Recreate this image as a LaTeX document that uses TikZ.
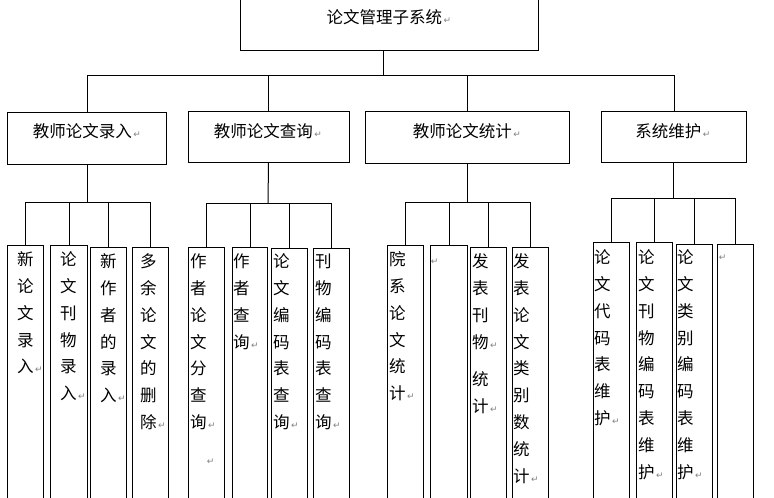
\documentclass[tikz,border=0pt]{standalone}
\usepackage{fontspec}
\newfontfamily\cjk{Noto Sans CJK SC}
\newfontfamily\retfont{DejaVu Sans}
\newcommand\ret{{\retfont\color{gray}\fontsize{9}{9}\selectfont\,↵}}
\tikzset{
  box/.style={draw, line width=1pt, rectangle, inner sep=0pt},
  leafbox/.style={draw, line width=1pt, rectangle, inner sep=0pt, anchor=north west},
  lbl/.style={inner sep=0pt, font=\cjk\fontsize{16.5}{16.5}\selectfont, text height=14pt, text depth=2.5pt},
  ch/.style={inner sep=0pt, anchor=west, font=\cjk\fontsize{16.5}{16.5}\selectfont, text height=14pt, text depth=2.5pt},
  link/.style={line width=1pt}
}
\newcommand\vtext[4]{% name prefix, left x, first y, list
  \foreach \c [count=\i from 0] in {#4} \node[ch] (#1-\i) at (#2, #3+\i*26.8) {\c};}
\begin{document}
\begin{tikzpicture}[x=1pt, y=-1pt]
\clip (0,0) rectangle (774,498);
% top
\node[box, minimum width=298pt, minimum height=52pt] (T) at (389,24) {};
\node[lbl] (Tl) at (389,18) {论文管理子系统\ret};
\coordinate (trunk) at (383,75);
\draw[link] (T.south -| trunk) -- (trunk);
% level 2
\node[box, minimum width=159pt, minimum height=52pt] (A) at (87,138) {};
\node[box, minimum width=161pt, minimum height=51pt] (B) at (268.5,136.5) {};
\node[box, minimum width=204pt, minimum height=52pt] (C) at (467,137) {};
\node[box, minimum width=145pt, minimum height=51pt] (D) at (673.5,136.5) {};
\node[lbl] (Al) at (87,132) {教师论文录入\ret};
\node[lbl] (Bl) at (268,132) {教师论文查询\ret};
\node[lbl] (Cl) at (467,132) {教师论文统计\ret};
\node[lbl] (Dl) at (673,132) {系统维护\ret};
\coordinate (busL) at (87,75);
\coordinate (busR) at (674,75);
\draw[link] (busL) -- (busR);
\draw[link] (busL) -- (A.north -| busL);
\draw[link] (B.north |- trunk) -- (B.north);
\draw[link] (C.north |- trunk) -- (C.north);
\draw[link] (busR) -- (D.north -| busR);
% leaves group 1
\node[leafbox, minimum width=36pt, minimum height=270pt] (a1) at (7,245) {};
\node[leafbox, minimum width=37pt, minimum height=270pt] (a2) at (50,245) {};
\node[leafbox, minimum width=36pt, minimum height=270pt] (a3) at (90,247) {};
\node[leafbox, minimum width=36pt, minimum height=270pt] (a4) at (132,247) {};
\coordinate (g1) at (87,202);
\draw[link] (A.south -| g1) -- (g1);
\draw[link] (a1.north |- g1) -- (151,202);
\foreach \n in {a1,a2,a3,a4} \draw[link] (\n.north |- g1) -- (\n.north);
\vtext{ta1}{17}{260}{新,论,文,录,入\ret}
\vtext{ta2}{60}{260}{论,文,刊,物,录,入\ret}
\vtext{ta3}{100}{262}{新,作,者,的,录,入\ret}
\vtext{ta4}{140}{262}{多,余,论,文,的,删,除\ret}
% leaves group 2
\node[leafbox, minimum width=36pt, minimum height=270pt] (b1) at (188,247) {};
\node[leafbox, minimum width=35pt, minimum height=270pt] (b2) at (232,247) {};
\node[leafbox, minimum width=36pt, minimum height=270pt] (b3) at (271,248) {};
\node[leafbox, minimum width=36pt, minimum height=270pt] (b4) at (313,248) {};
\coordinate (g2) at (268,203);
\draw[link] (B.south) -- (g2);
\draw[link] (b1.north |- g2) -- (b4.north |- g2);
\foreach \n in {b1,b2,b3,b4} \draw[link] (\n.north |- g2) -- (\n.north);
\vtext{tb1}{190}{262}{作,者,论,文,分,查,询\ret}
\node[inner sep=0pt] (tb1x) at (210,462) {\ret};
\vtext{tb2}{233}{262}{作,者,查,询\ret}
\vtext{tb3}{273}{262}{论,文,编,码,表,查,询\ret}
\vtext{tb4}{315}{262}{刊,物,编,码,表,查,询\ret}
% leaves group 3
\node[leafbox, minimum width=36pt, minimum height=270pt] (c1) at (387,245) {};
\node[leafbox, minimum width=37pt, minimum height=270pt] (c2) at (430,245) {};
\node[leafbox, minimum width=36pt, minimum height=270pt] (c3) at (470,247) {};
\node[leafbox, minimum width=36pt, minimum height=270pt] (c4) at (512,247) {};
\coordinate (g3) at (467,202);
\draw[link] (C.south) -- (g3);
\draw[link] (c1.north |- g3) -- (531,202);
\foreach \n in {c1,c2,c3,c4} \draw[link] (\n.north |- g3) -- (\n.north);
\vtext{tc1}{389}{260}{院,系,论,文,统,计\ret}
\node[inner sep=0pt] (tc2) at (434,262) {\ret};
\vtext{tc3}{472}{262}{发,表,刊,物\ret}
\vtext{tc3b}{472}{380}{统,计\ret}
\vtext{tc4}{513}{262}{发,表,论,文,类,别,数,统,计\ret}
% leaves group 4
\node[leafbox, minimum width=36pt, minimum height=270pt] (d1) at (593,242) {};
\node[leafbox, minimum width=36pt, minimum height=270pt] (d2) at (636,242) {};
\node[leafbox, minimum width=36pt, minimum height=270pt] (d3) at (676,244) {};
\node[leafbox, minimum width=36pt, minimum height=270pt] (d4) at (717,244) {};
\coordinate (g4) at (673,198);
\draw[link] (D.south -| g4) -- (g4);
\draw[link] (d1.north |- g4) -- (d4.north |- g4);
\foreach \n in {d1,d2,d3,d4} \draw[link] (\n.north |- g4) -- (\n.north);
\vtext{td1}{594}{258}{论,文,代,码,表,维,护\ret}
\vtext{td2}{638}{258}{论,文,刊,物,编,码,表,维,护\ret}
\vtext{td3}{677}{258}{论,文,类,别,编,码,表,维,护\ret}
\node[inner sep=0pt] (td4) at (722,258) {\ret};
\end{tikzpicture}
\end{document}
